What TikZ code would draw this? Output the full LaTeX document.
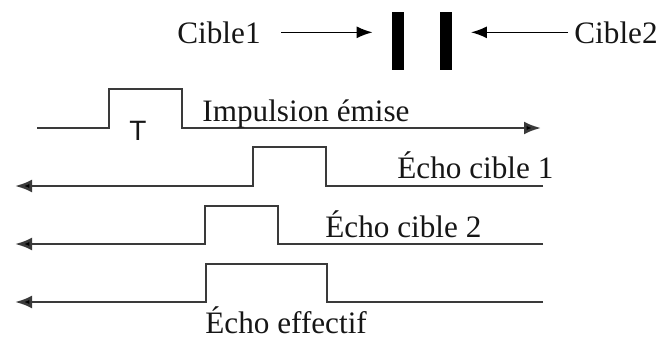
\documentclass[tikz,border=0pt]{standalone}
\usepackage{fontspec}
\setmainfont{Liberation Serif}
\newfontfamily\pulsefont{Liberation Sans}
\usepackage{xcolor}
\usepackage{tikz}
\usetikzlibrary{arrows.meta,positioning}
\definecolor{radarInk}{HTML}{161616}
\definecolor{radarWave}{HTML}{3A3A3A}
\tikzset{
  caption/.style={
    inner sep=0pt,
    anchor=base west,
    text=radarInk,
    font=\fontsize{15.6}{18}\selectfont
  },
  targetBar/.style={
    rectangle,
    fill=black,
    inner sep=0pt,
    minimum width=6pt,
    minimum height=29pt
  },
  pointer/.style={
    -{Latex[length=8pt,width=6pt]},
    line width=0.8pt,
    draw=black
  },
  waveLine/.style={
    line width=1.3pt,
    draw=radarWave,
    line join=miter
  },
  waveArrow/.style={
    waveLine,
    -{Latex[length=8.5pt,width=6.5pt,fill=black]}
  }
}

\begin{document}
\begin{tikzpicture}[x=0.5pt,y=-0.5pt]
  \useasboundingbox (0,0) rectangle (672,338);

  % the two targets and their pointers
  \node[targetBar] (barA) at (398,41) {};
  \node[targetBar] (barB) at (445.5,41) {};
  \node[caption] (cibleA) at (177,43) {Cible1};
  \node[caption] (cibleB) at (574,43) {Cible2};
  \draw[pointer,shorten <=10pt,shorten >=9.5pt] (cibleA.east) -- (cibleA.east -| barA.west);
  \draw[pointer,shorten <=3pt,shorten >=9.5pt] (cibleB.west) -- (cibleB.west -| barB.east);

  % emitted pulse
  \draw[waveArrow] (37,128) -- (109,128) -- (109,89) -- (182,89) -- (182,128) -- (541,128);
  \node[inner sep=0pt,anchor=base,text=radarInk,font=\pulsefont\fontsize{14}{16}\selectfont] (width) at (138,140) {T};
  \node[caption] (emitted) at (202,121) {Impulsion émise};

  % echoes coming back
  \draw[waveArrow] (543,186) -- (326,186) -- (326,147) -- (253,147) -- (253,186) -- (15,186);
  \node[caption] (echoA) at (397,178) {Écho cible 1};

  \draw[waveArrow] (543,244) -- (278,244) -- (278,206) -- (205,206) -- (205,244) -- (15,244);
  \node[caption] (echoB) at (325,237) {Écho cible 2};

  \draw[waveArrow] (543,302) -- (327,302) -- (327,264) -- (206,264) -- (206,302) -- (15,302);
  \node[caption] (echoSum) at (205,333) {Écho effectif};
\end{tikzpicture}
\end{document}
